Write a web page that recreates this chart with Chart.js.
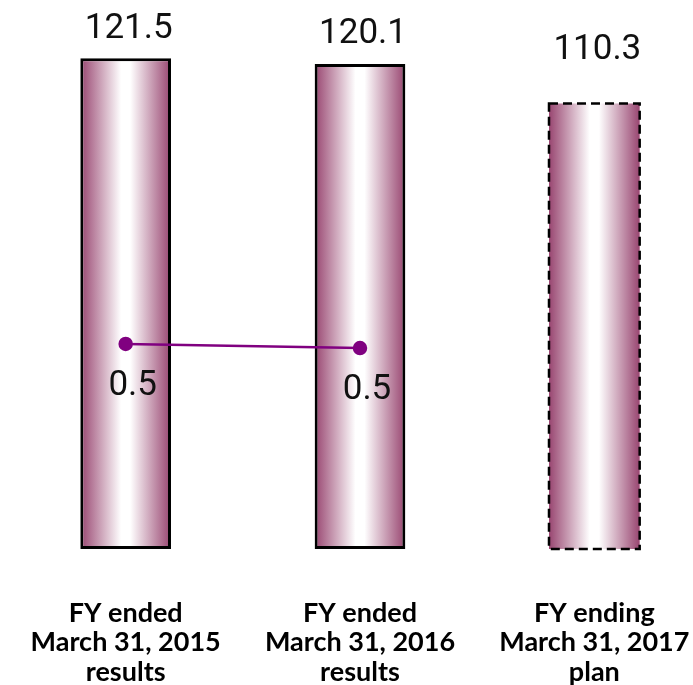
<!DOCTYPE html>
<html>
<head>
<meta charset="utf-8">
<script src="https://cdn.jsdelivr.net/npm/chart.js@4/dist/chart.umd.min.js"></script>
<style>
  html, body { margin: 0; padding: 0; background: #fff; overflow: hidden; }
  #myChart { display: block; }
</style>
</head>
<body>
<canvas id="myChart" width="720" height="685"></canvas>
<script>
// Categorias (eje x)
const categories = [
  ['FY ended', 'March 31, 2015', 'results'],
  ['FY ended', 'March 31, 2016', 'results'],
  ['FY ending', 'March 31, 2017', 'plan']
];

// Valores de las barras
const barValues = [121.5, 120.1, 110.3];

// Valores de la linea (eje secundario), el ultimo no existe
const lineValues = [0.50, 0.49, null];

// Barra con borde discontinuo (plan)
const dashedBars = [false, false, true];

const barColor = '#984570';
const lineColor = '#800080';

// Gradiente horizontal para cada barra
function barGradient(context) {
  const chart = context.chart;
  if (!chart.chartArea) return barColor;
  const x = chart.scales.x;
  const center = x.getPixelForValue(context.dataIndex);
  const half = (x.width / categories.length) * 0.387 / 2;
  const g = chart.ctx.createLinearGradient(center - half, 0, center + half, 0);
  g.addColorStop(0, barColor);
  g.addColorStop(0.45, '#ffffff');
  g.addColorStop(0.55, '#ffffff');
  g.addColorStop(1, barColor);
  return g;
}

// Plugin para los bordes discontinuos y las etiquetas de valores
const labelsPlugin = {
  id: 'labelsPlugin',
  afterDatasetsDraw(chart) {
    const ctx = chart.ctx;
    // borde discontinuo
    chart.getDatasetMeta(0).data.forEach((bar, i) => {
      if (!dashedBars[i]) return;
      const p = bar.getProps(['x', 'y', 'base', 'width'], true);
      ctx.save();
      ctx.strokeStyle = '#000';
      ctx.lineWidth = 2.5;
      ctx.setLineDash([9, 5]);
      ctx.strokeRect(p.x - p.width / 2, p.y, p.width, p.base - p.y);
      ctx.restore();
    });

    ctx.save();
    ctx.fillStyle = '#111';
    ctx.font = '35px Roboto';
    ctx.textAlign = 'center';
    // etiquetas de barras
    chart.getDatasetMeta(0).data.forEach((bar, i) => {
      ctx.textBaseline = 'bottom';
      const off = dashedBars[i] ? 40 : 16;
      ctx.fillText(barValues[i].toFixed(1), bar.x + 3, bar.y - off + 4);
    });
    // etiquetas de la linea
    chart.getDatasetMeta(1).data.forEach((pt, i) => {
      if (lineValues[i] == null) return;
      ctx.textBaseline = 'middle';
      ctx.fillText(lineValues[i].toFixed(1), pt.x + 7, pt.y + 42);
    });
    ctx.restore();
  }
};

const data = {
  labels: categories,
  datasets: [{
    type: 'bar',
    data: barValues,
    backgroundColor: barGradient,
    borderColor: dashedBars.map(d => d ? 'rgba(0,0,0,0)' : '#000'),
    borderWidth: dashedBars.map(d => d ? 0 : 3),
    borderSkipped: false,
    categoryPercentage: 1,
    barPercentage: 0.387,
    yAxisID: 'y',
    order: 2
  }, {
    type: 'line',
    data: lineValues,
    borderColor: lineColor,
    backgroundColor: lineColor,
    borderWidth: 2.5,
    pointRadius: 6,
    pointHoverRadius: 6,
    spanGaps: false,
    yAxisID: 'y1',
    order: 1
  }]
};

const config = {
  data: data,
  options: {
    responsive: false,
    animation: false,
    layout: { padding: { top: 24, left: 1, right: 0, bottom: 0 } },
    plugins: { legend: { display: false }, tooltip: { enabled: false } },
    scales: {
      x: {
        grid: { display: false },
        border: { display: false },
        afterFit(scale) {
          scale.height = 136;
          scale.paddingLeft = 0;
          scale.paddingRight = 0;
        },
        ticks: {
          color: '#000',
          padding: 42,
          maxRotation: 0,
          autoSkip: false,
          font: { family: 'Lato', size: 27, weight: 'bold', lineHeight: 1.08 }
        }
      },
      y: { display: false, min: 0, max: 130 },
      y1: { display: false, min: 0, max: 1.28 }
    }
  },
  plugins: [labelsPlugin]
};

const myChart = new Chart(document.getElementById('myChart'), config);
</script>
</body>
</html>
